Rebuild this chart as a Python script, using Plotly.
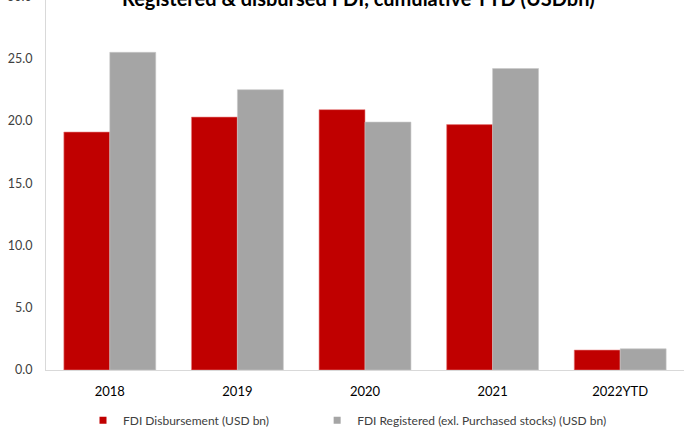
import plotly.graph_objects as go

categories = ["2018", "2019", "2020", "2021", "2022YTD"]
disbursement = [19.1, 20.3, 20.9, 19.7, 1.6]
registered = [25.5, 22.5, 19.9, 24.2, 1.7]
series_names = ["FDI Disbursement (USD bn)", "FDI Registered (exl. Purchased stocks) (USD bn)"]
tick_vals = [0, 5, 10, 15, 20, 25]
tick_text = ["0.0", "5.0", "10.0", "15.0", "20.0", "25.0"]
title_text = "Registered & disbursed FDI, cumulative YTD (USDbn)"

RED = "#C00000"
GRAY = "#A5A5A5"
FONT = "Lato"

fig = go.Figure()
fig.add_trace(go.Bar(x=categories, y=disbursement, name=series_names[0],
                     marker=dict(color=RED, line=dict(color="#E88080", width=0.6)),
                     showlegend=False))
fig.add_trace(go.Bar(x=categories, y=registered, name=series_names[1],
                     marker=dict(color=GRAY, line=dict(color="#C8C8C8", width=0.6)),
                     showlegend=False))
# legend entries with small square markers
fig.add_trace(go.Scatter(x=[None], y=[None], mode="markers", name=series_names[0],
                         marker=dict(symbol="square", size=7, color=RED), legend="legend"))
fig.add_trace(go.Scatter(x=[None], y=[None], mode="markers", name=series_names[1],
                         marker=dict(symbol="square", size=7, color=GRAY), legend="legend2"))

legend_common = dict(orientation="h", yanchor="middle", y=-0.1357,
                     font=dict(family=FONT, size=12, color="#404040"),
                     bgcolor="rgba(0,0,0,0)", xanchor="left")

fig.update_layout(
    width=684, height=427,
    margin=dict(l=46, r=0, t=0, b=57, autoexpand=False),
    paper_bgcolor="white", plot_bgcolor="white",
    barmode="group", bargap=0.28, bargroupgap=0,
    font=dict(family=FONT, size=12, color="#404040"),
    showlegend=True,
    legend=dict(x=0.058, **legend_common),
    legend2=dict(x=0.425, **legend_common),
    xaxis=dict(showline=True, linecolor="#D9D9D9", linewidth=1, ticks="",
               tickfont=dict(family=FONT, size=13, color="#000000"),
               ticklabelstandoff=9, showgrid=False),
    yaxis=dict(range=[0, 29.7], showline=True, linecolor="#D9D9D9", linewidth=1,
               tickvals=tick_vals, ticktext=tick_text, ticks="",
               tickfont=dict(family=FONT, size=12.5, color="#404040"),
               ticklabelstandoff=10, showgrid=False, zeroline=False),
    annotations=[
        dict(text="<b>" + title_text + "</b>", xref="paper", yref="paper",
             x=0.49, y=1, xanchor="center", yanchor="middle", yshift=2,
             showarrow=False, font=dict(family=FONT, size=20, color="#000000")),
        dict(text="30.0", xref="paper", yref="paper", x=0, y=1, xanchor="right",
             yanchor="middle", xshift=-12, yshift=4, showarrow=False,
             font=dict(family=FONT, size=12.5, color="#404040")),
    ],
)

fig.write_html("out.html")
